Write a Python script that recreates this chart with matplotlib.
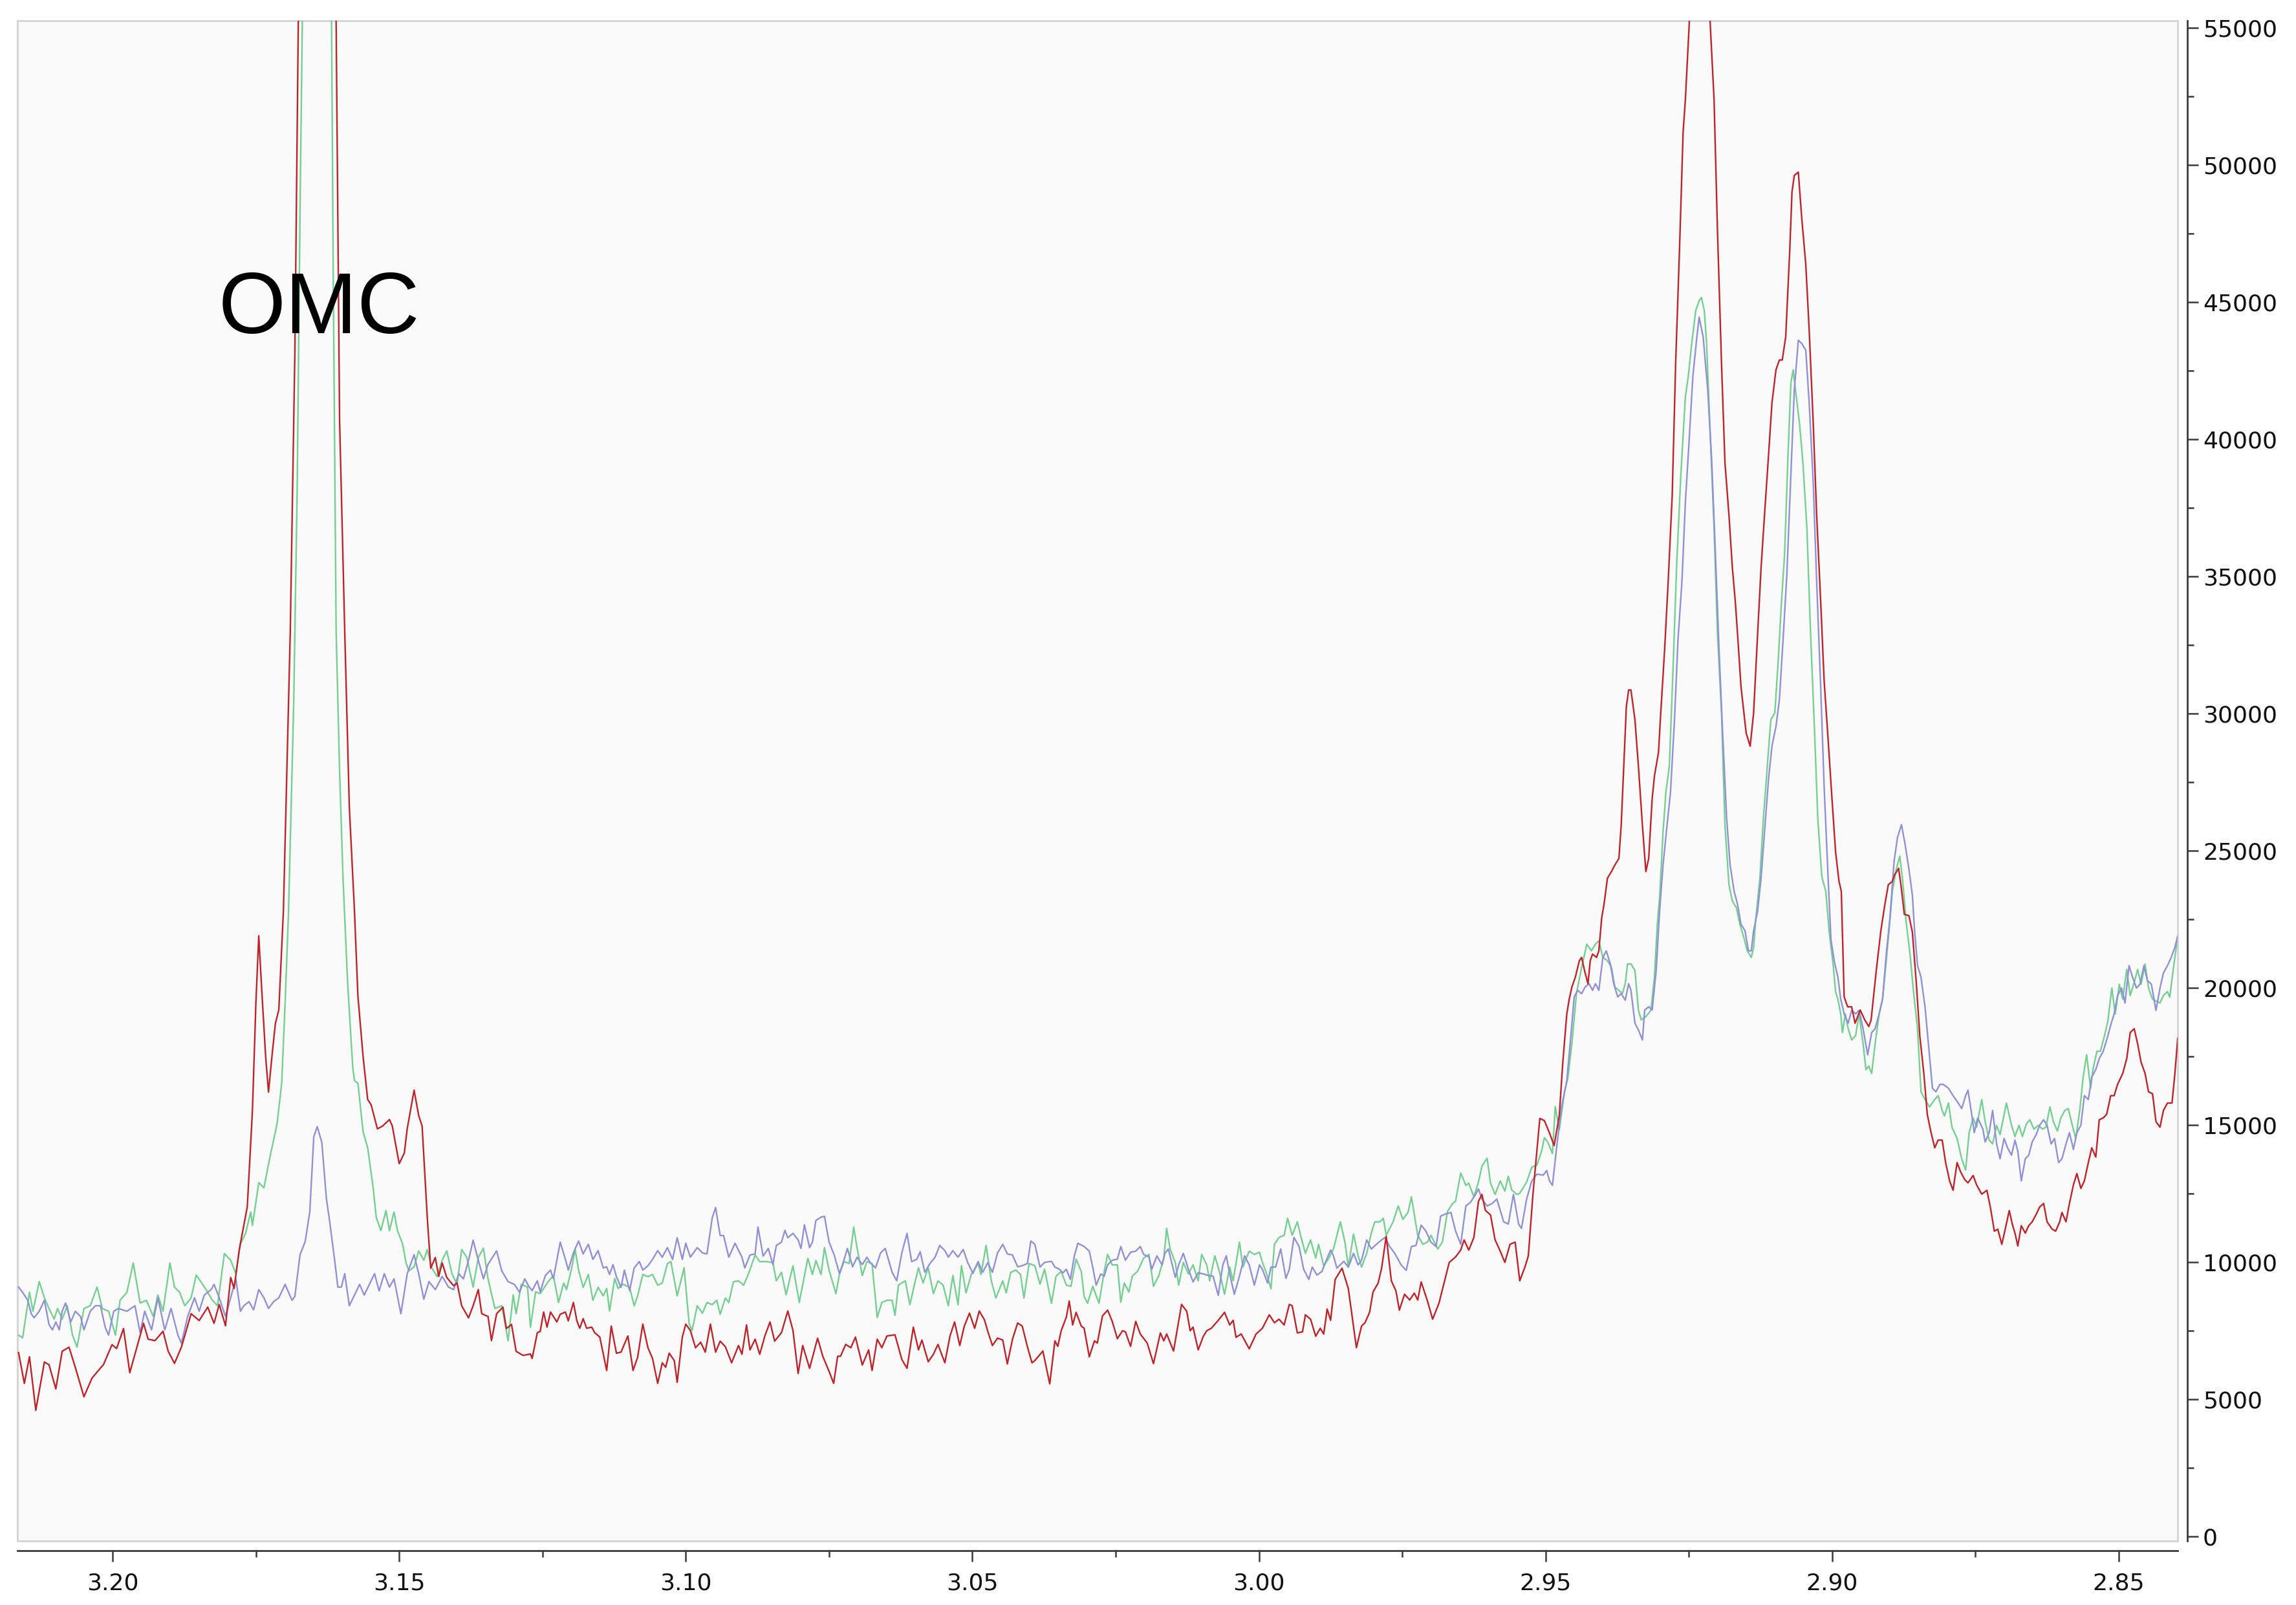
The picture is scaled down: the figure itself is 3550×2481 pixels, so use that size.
import numpy as np
import matplotlib
matplotlib.use("Agg")
import matplotlib.pyplot as plt
from matplotlib.patches import Rectangle
from matplotlib.ticker import MultipleLocator, FormatStrFormatter

# ---------------- data (chemical shift in ppm, intensity) ----------------
red_ppm = [3.2164,3.2154,3.2145,3.2134,3.2119,3.2111,3.2099,3.2088,3.2076,3.2065,3.2050,3.2036,3.2024,3.2016,3.2001,3.1993,3.1981,3.1970,3.1946,3.1938,3.1926,3.1912,3.1903,3.1892,3.1880,3.1863,3.1849,3.1834,3.1823,3.1814,3.1803,3.1794,3.1788,3.1779,3.1765,3.1756,3.1750,3.1745,3.1740,3.1733,3.1728,3.1722,3.1716,3.1710,3.1702,3.1690,3.1682,3.1676,3.1660,3.1643,3.1626,3.1610,3.1604,3.1595,3.1587,3.1578,3.1572,3.1563,3.1555,3.1549,3.1538,3.1529,3.1517,3.1512,3.1500,3.1491,3.1486,3.1474,3.1466,3.1460,3.1451,3.1445,3.1437,3.1431,3.1425,3.1417,3.1405,3.1399,3.1391,3.1379,3.1371,3.1362,3.1356,3.1345,3.1339,3.1330,3.1319,3.1313,3.1304,3.1296,3.1284,3.1271,
           3.1268,3.1259,3.1254,3.1248,3.1242,3.1236,3.1231,3.1225,3.1219,3.1210,3.1205,3.1196,3.1190,3.1185,3.1179,3.1173,3.1164,3.1159,3.1150,3.1138,3.1130,3.1121,3.1113,3.1101,3.1092,3.1084,3.1075,3.1066,3.1058,3.1049,3.1041,3.1035,3.1029,3.1020,3.1015,3.1006,3.1000,3.0992,3.0983,3.0974,3.0966,3.0957,3.0948,3.0940,3.0931,3.0920,3.0908,3.0902,3.0894,3.0888,3.0879,3.0871,3.0862,3.0853,3.0845,3.0833,3.0822,3.0813,3.0804,3.0796,3.0784,3.0770,3.0761,3.0750,3.0742,3.0735,3.0730,3.0721,3.0712,3.0704,3.0692,3.0681,3.0675,3.0666,3.0658,3.0649,3.0635,3.0623,3.0614,3.0603,3.0594,3.0588,3.0577,3.0568,3.0560,3.0548,3.0539,3.0531,3.0522,3.0514,3.0505,3.0496,3.0488,3.0479,3.0473,3.0465,3.0456,3.0447,3.0439,3.0430,3.0421,3.0413,3.0404,3.0396,3.0391,
           3.0377,3.0365,3.0356,3.0351,3.0345,3.0336,3.0331,3.0325,3.0319,3.0310,3.0305,3.0296,3.0287,3.0282,3.0273,3.0264,3.0256,3.0247,3.0238,3.0233,3.0224,3.0215,3.0207,3.0195,3.0184,3.0172,3.0166,3.0161,3.0149,3.0135,3.0126,3.0120,3.0115,3.0106,3.0097,3.0091,3.0083,3.0071,3.0060,3.0051,3.0045,3.0040,3.0031,3.0017,3.0005,2.9994,2.9982,2.9973,2.9965,2.9956,2.9947,2.9942,2.9933,2.9924,2.9919,2.9910,2.9901,2.9893,2.9887,2.9881,2.9875,2.9867,2.9855,2.9844,2.9830,2.9821,2.9815,2.9807,2.9801,2.9792,2.9786,2.9778,2.9769,2.9761,2.9755,2.9746,2.9737,2.9729,2.9723,2.9717,2.9706,2.9697,2.9686,2.9677,2.9668,2.9657,2.9648,2.9642,2.9634,2.9625,2.9617,2.9611,2.9605,2.9596,2.9588,2.9579,2.9571,2.9562,2.9553,2.9545,2.9536,2.9530,2.9522,2.9510,2.9502,2.9493,
           2.9485,2.9476,2.9470,2.9463,2.9459,2.9454,2.9448,2.9441,2.9437,2.9432,2.9426,2.9422,2.9418,2.9411,2.9407,2.9402,2.9398,2.9392,2.9385,2.9379,2.9372,2.9368,2.9364,2.9359,2.9355,2.9351,2.9344,2.9338,2.9331,2.9325,2.9320,2.9314,2.9310,2.9303,2.9299,2.9292,2.9286,2.9279,2.9273,2.9266,2.9260,2.9256,2.9249,2.9240,2.9231,2.9222,2.9213,2.9206,2.9200,2.9193,2.9187,2.9180,2.9174,2.9169,2.9165,2.9159,2.9150,2.9143,2.9137,2.9130,2.9124,2.9118,2.9111,2.9105,2.9098,2.9092,2.9087,2.9081,2.9074,2.9070,2.9066,2.9059,2.9053,2.9046,2.9040,2.9033,2.9027,2.9020,2.9014,2.9007,2.9001,2.8994,2.8988,2.8984,2.8979,2.8973,2.8966,2.8960,2.8951,2.8943,2.8936,2.8932,2.8923,2.8915,2.8908,2.8902,2.8895,2.8891,2.8884,2.8880,2.8874,
           2.8866,2.8860,2.8853,2.8847,2.8840,2.8834,2.8828,2.8821,2.8815,2.8808,2.8802,2.8795,2.8789,2.8782,2.8776,2.8769,2.8763,2.8754,2.8748,2.8739,2.8730,2.8724,2.8717,2.8711,2.8704,2.8698,2.8691,2.8685,2.8681,2.8676,2.8670,2.8663,2.8657,2.8651,2.8644,2.8638,2.8631,2.8625,2.8616,2.8610,2.8603,2.8599,2.8592,2.8586,2.8579,2.8573,2.8566,2.8560,2.8553,2.8547,2.8540,2.8534,2.8527,2.8521,2.8514,2.8508,2.8502,2.8493,2.8486,2.8480,2.8473,2.8467,2.8461,2.8454,2.8448,2.8441,2.8435,2.8428,2.8422,2.8415,2.8407,2.8402,2.8397]
red_int = [6700,5580,6550,4600,6360,6260,5380,6750,6900,6160,5090,5770,6070,6260,6990,6850,7580,5970,7770,7190,7140,7480,6750,6310,6900,8120,7870,8360,7770,8460,7680,9440,9040,10460,12020,15540,19450,21900,20000,17500,16200,17500,18700,19200,22800,33000,43200,55200,110000,160000,110000,55200,40700,33000,26600,22800,19700,17500,15930,15740,14860,14960,15200,14960,13590,13980,14860,16270,15350,14960,11630,9780,10170,9480,9970,9440,9140,9240,8410,7970,8410,9000,8120,8020,7140,8120,8360,7580,7730,6750,6600,6650,
           6490,7430,7470,8180,7630,8180,8020,7820,8100,8180,7860,8530,7860,7590,7940,7590,7630,7430,7270,6050,7670,6680,6720,7310,6050,6530,7740,6880,6490,5580,6330,6170,6680,6410,5620,7270,7740,7510,6880,7080,6720,7740,6720,7120,6920,6330,6960,6640,7710,6800,7190,6640,7310,7820,7120,7430,8220,7510,5940,6960,6130,7230,6570,6020,5580,6570,6570,7000,6880,7270,6250,6800,6050,7190,6880,7310,7350,6450,6130,7630,6800,7160,6370,6640,7000,6330,7310,7820,6960,7670,8140,7590,8220,7900,7470,6960,7230,7160,6290,7190,7780,7670,6920,6330,6410,
           6760,5560,7130,6930,7500,8000,8580,7710,8170,7670,7590,6550,7130,7050,8040,8250,7840,7210,7500,7460,6930,7840,7380,7050,6300,7420,7130,7380,6760,8460,8210,7500,7630,6800,7300,7500,7590,7880,8170,7710,7880,7260,7380,6840,7380,7590,8080,7790,7920,7710,8460,8410,7420,7460,8080,7920,7300,7590,7380,8290,7880,9370,9780,9030,6880,7670,7790,8170,8910,9240,9780,10940,9320,8950,8250,8830,8620,8870,8620,9280,8580,7920,8500,9240,9990,10190,10440,10810,10440,10900,12220,12470,11890,11720,10810,10400,9990,10650,10730,9320,9820,10230,12470,15240,15160,14700,
           14250,15350,17250,19030,19560,20030,20390,20990,21110,20630,20150,20990,21230,21110,21350,22560,23040,24000,24240,24480,24720,25930,27850,30260,30860,30860,29770,28090,25930,24240,24720,26890,27730,28570,30020,32420,34830,37960,42770,47100,51190,52390,55280,59500,61500,59500,55280,52390,47580,42770,39160,37230,35310,34100,32900,30980,29290,28810,30020,32900,35310,37230,39400,41320,42530,42890,42890,43730,46860,49020,49620,49740,48060,46380,43970,40600,37230,34100,31220,29050,27130,24960,23880,23520,19670,19310,19310,18710,19190,18830,18590,18830,20630,22080,23040,23760,23880,24120,24360,23760,22680,
           22630,22030,20130,18240,16880,15390,14780,14170,14450,14450,13630,12960,12620,13630,13300,13020,12890,13160,12820,12480,12620,12010,11130,11200,10650,11200,11880,11330,11060,10590,11330,11060,11330,11470,11740,12010,12140,11470,11200,11130,11470,11810,11470,12140,12820,13230,12690,12960,13630,14170,13830,15190,15260,15390,16070,16070,16480,16880,17420,18370,18510,17960,17290,16880,16210,16140,15120,14920,15530,15800,15800,16880,18170]

green_ppm = [3.2164,3.2157,3.2145,3.2139,3.2128,3.2119,3.2111,3.2102,3.2096,3.2088,3.2079,3.2070,3.2062,3.2050,3.2039,3.2027,3.2018,3.2007,3.1995,3.1987,3.1975,3.1964,3.1952,3.1941,3.1929,3.1921,3.1912,3.1900,3.1892,3.1883,3.1874,3.1863,3.1854,3.1846,3.1837,3.1826,3.1817,3.1805,3.1794,3.1785,3.1777,3.1768,3.1759,3.1756,3.1745,3.1736,3.1725,3.1713,3.1705,3.1699,3.1693,3.1684,3.1678,3.1673,3.1669,3.1655,3.1643,3.1631,3.1618,3.1615,3.1610,3.1604,3.1598,3.1590,3.1581,3.1578,3.1572,3.1563,3.1555,3.1546,3.1540,3.1532,3.1523,3.1517,3.1509,3.1503,3.1494,3.1488,3.1483,3.1474,3.1466,3.1457,3.1451,3.1443,3.1434,3.1425,3.1417,3.1408,3.1399,3.1391,3.1382,3.1371,3.1362,3.1353,3.1345,3.1333,3.1321,3.1310,3.1301,3.1296,3.1287,3.1276,
             3.1271,3.1262,3.1254,3.1239,3.1231,3.1222,3.1213,3.1208,3.1199,3.1193,3.1187,3.1179,3.1170,3.1162,3.1153,3.1144,3.1138,3.1133,3.1124,3.1118,3.1110,3.1098,3.1090,3.1084,3.1075,3.1066,3.1058,3.1049,3.1041,3.1032,3.1026,3.1015,3.1003,3.0994,3.0989,3.0980,3.0971,3.0963,3.0954,3.0946,3.0940,3.0931,3.0925,3.0917,3.0908,3.0899,3.0891,3.0879,3.0871,3.0859,3.0848,3.0842,3.0833,3.0825,3.0813,3.0802,3.0787,3.0779,3.0773,3.0764,3.0758,3.0750,3.0738,3.0732,3.0724,3.0715,3.0707,3.0701,3.0692,3.0684,3.0675,3.0666,3.0658,3.0649,3.0640,3.0635,3.0629,3.0617,3.0609,3.0600,3.0594,3.0586,3.0577,3.0568,3.0560,3.0551,3.0542,3.0534,3.0525,3.0519,3.0511,3.0502,3.0490,3.0485,3.0476,3.0467,3.0459,3.0447,3.0441,3.0433,3.0424,3.0416,3.0410,3.0401,3.0391,
             3.0382,3.0374,3.0362,3.0354,3.0345,3.0336,3.0328,3.0319,3.0310,3.0305,3.0299,3.0290,3.0279,3.0270,3.0264,3.0256,3.0247,3.0241,3.0235,3.0227,3.0221,3.0212,3.0201,3.0192,3.0184,3.0175,3.0166,3.0161,3.0155,3.0146,3.0140,3.0132,3.0123,3.0115,3.0106,3.0100,3.0091,3.0086,3.0077,3.0069,3.0060,3.0051,3.0045,3.0034,3.0028,3.0022,3.0017,3.0008,2.9999,2.9994,2.9988,2.9979,2.9973,2.9965,2.9956,2.9950,2.9942,2.9933,2.9927,2.9919,2.9910,2.9901,2.9896,2.9887,2.9878,2.9870,2.9858,2.9850,2.9844,2.9835,2.9827,2.9821,2.9812,2.9804,2.9798,2.9789,2.9783,2.9778,2.9766,2.9757,2.9749,2.9740,2.9734,2.9723,2.9714,2.9706,2.9700,2.9688,2.9680,2.9671,2.9662,2.9657,2.9648,2.9639,2.9634,2.9625,2.9617,2.9611,2.9602,2.9596,2.9588,2.9579,2.9571,2.9565,2.9559,2.9550,2.9545,2.9533,2.9524,2.9515,2.9507,2.9502,2.9496,2.9488,
             2.9483,2.9476,2.9467,2.9461,2.9454,2.9446,2.9437,2.9428,2.9420,2.9413,2.9407,2.9400,2.9392,2.9385,2.9379,2.9372,2.9366,2.9361,2.9357,2.9351,2.9344,2.9338,2.9333,2.9325,2.9316,2.9310,2.9305,2.9301,2.9295,2.9290,2.9284,2.9277,2.9271,2.9264,2.9256,2.9251,2.9245,2.9238,2.9232,2.9228,2.9223,2.9219,2.9213,2.9206,2.9200,2.9193,2.9187,2.9180,2.9174,2.9167,2.9161,2.9154,2.9148,2.9141,2.9137,2.9133,2.9126,2.9120,2.9113,2.9107,2.9100,2.9094,2.9089,2.9083,2.9077,2.9072,2.9068,2.9064,2.9057,2.9051,2.9044,2.9038,2.9031,2.9025,
             2.9018,2.9011,2.9005,2.8998,2.8994,2.8990,2.8985,2.8982,2.8977,2.8972,2.8966,2.8959,2.8953,2.8946,2.8941,2.8936,2.8931,2.8925,2.8918,2.8912,2.8907,2.8901,2.8895,2.8888,2.8882,2.8877,2.8871,2.8864,2.8858,2.8851,2.8845,2.8838,2.8830,2.8821,2.8815,2.8808,2.8804,2.8797,2.8791,2.8782,2.8774,2.8767,2.8761,2.8754,2.8748,2.8739,2.8733,2.8726,2.8720,2.8713,2.8707,2.8696,2.8687,2.8681,2.8674,2.8668,2.8661,2.8655,2.8648,2.8640,2.8633,2.8627,2.8620,2.8614,2.8607,2.8601,2.8594,2.8588,2.8581,2.8575,2.8568,2.8562,2.8556,2.8549,2.8545,2.8538,2.8532,2.8525,2.8519,2.8512,2.8506,2.8499,2.8493,2.8486,2.8480,2.8473,2.8467,2.8461,2.8454,2.8448,2.8441,2.8435,2.8428,2.8422,2.8415,2.8411,2.8404,2.8397]
green_int = [7340,7240,8900,8210,9290,8700,8310,7920,8310,7920,8410,7340,6900,8310,8410,9090,8310,8210,7340,8610,8900,9970,8510,8610,8020,8800,8210,9970,9090,8900,8410,8700,9530,9290,9000,8610,8410,10310,10070,9580,10660,11050,11830,11340,12900,12710,13880,15050,16520,19450,22800,30400,38100,48300,55200,100000,130000,100000,55200,45800,33000,27900,24000,20200,17100,16620,16520,14760,14170,12810,11630,11150,11880,11150,11830,11150,10660,9970,9680,9830,10410,10070,10460,9780,9480,10070,10410,9580,9190,10460,10170,9090,10170,10510,9390,8310,8410,7140,8800,8120,9190,9090,
             7630,8920,8850,9320,9510,8530,9240,9000,9790,10460,9710,9080,9550,8610,9080,8770,9040,8220,9400,9040,9200,9080,8410,8770,9550,9470,9550,9160,9240,9950,10020,8770,9790,7740,7510,8410,8140,8530,8450,8610,8100,8690,8530,9280,9320,9160,9550,10260,10020,10020,9980,9320,9630,8810,9870,8530,10140,9550,10060,9550,10530,9710,8850,9550,10020,9950,11280,10500,9510,10020,9950,7980,8530,8610,8610,8060,9160,9320,8450,9280,9790,9240,9790,8850,9320,9160,8410,9510,8450,9870,8880,9550,9950,9550,10610,9320,8690,9320,8880,9630,9710,9550,8690,9950,9870,
             9200,9740,8500,9490,9660,9160,9120,10110,9660,8750,8500,9120,8500,9660,10280,9900,9900,8540,9240,8910,9490,9660,10150,10280,9120,9490,10150,11230,10480,9990,9160,9990,9570,9900,9320,10280,9900,9320,10230,9660,8830,9820,9320,10730,9820,10150,10400,10280,10360,9990,9660,9030,10650,10900,10980,11600,10980,11470,10940,10320,10810,10150,10650,9860,10150,10480,11470,10730,9820,11020,10230,9820,10320,11060,11470,11470,11600,10980,11470,12050,11560,11810,12380,10980,10650,10730,10980,10480,10730,11850,12140,12220,13250,12800,12880,12380,12920,13500,13790,12880,12470,12960,12590,13130,12630,12470,12510,12920,13460,13540,14040,14540,14370,13960,
             15670,14830,16190,16720,17980,19800,20750,21590,21350,21590,21710,21110,20990,20750,20030,19910,19790,20150,20870,20870,20630,19190,18830,18950,19190,20390,22320,23280,25680,27130,28090,31940,35550,38680,41560,42290,43490,44690,45050,45170,44690,43490,40360,36750,32900,30020,25930,23760,23160,22920,22320,21830,21350,21110,21470,22560,24000,26170,28090,29770,30020,31940,33860,35790,39400,42050,42530,41800,40600,39160,36750,33140,29530,26170,
             24060,23510,22030,20810,19860,19590,19050,18370,19050,18510,18100,18260,19050,17960,17020,17150,16880,17960,19050,19590,20670,22030,23510,24330,24800,23920,22430,21210,19860,18510,16210,15930,15660,15930,16070,15530,15330,15800,14920,14510,13770,13360,14720,15260,14920,15930,15120,14450,14310,14990,14650,15800,14990,14580,14990,14580,15050,15190,14850,14990,14850,14920,15660,15120,14780,15260,15530,15600,14990,14510,15530,16750,17560,16340,17020,17690,17690,18240,18780,19990,19050,20130,19590,20670,19720,20200,20670,20130,20870,19990,19590,19520,19450,19720,19860,19660,20810,21890]

blue_ppm = [3.2164,3.2157,3.2148,3.2142,3.2137,3.2128,3.2119,3.2111,3.2105,3.2099,3.2093,3.2088,3.2082,3.2073,3.2065,3.2056,3.2050,3.2039,3.2030,3.2021,3.2013,3.2007,3.1998,3.1990,3.1975,3.1961,3.1952,3.1944,3.1932,3.1921,3.1909,3.1898,3.1886,3.1880,3.1869,3.1857,3.1849,3.1840,3.1828,3.1823,3.1814,3.1803,3.1794,3.1785,3.1777,3.1771,3.1762,3.1754,3.1745,3.1736,3.1728,3.1719,3.1710,3.1699,3.1687,3.1682,3.1673,3.1664,3.1656,3.1649,3.1643,3.1635,3.1627,3.1621,3.1612,3.1607,3.1601,3.1595,3.1587,3.1578,3.1569,3.1561,3.1552,3.1543,3.1535,3.1526,3.1517,3.1509,3.1497,3.1486,3.1474,3.1466,3.1457,3.1448,3.1437,3.1425,3.1414,3.1405,3.1396,3.1388,3.1379,3.1371,3.1362,3.1353,3.1345,3.1330,3.1321,3.1310,3.1299,3.1290,3.1281,
            3.1274,3.1268,3.1259,3.1254,3.1245,3.1236,3.1231,3.1219,3.1210,3.1205,3.1196,3.1187,3.1179,3.1170,3.1162,3.1153,3.1144,3.1138,3.1133,3.1127,3.1121,3.1113,3.1107,3.1098,3.1090,3.1081,3.1075,3.1066,3.1058,3.1049,3.1041,3.1032,3.1023,3.1015,3.1006,3.1000,3.0992,3.0980,3.0971,3.0963,3.0954,3.0948,3.0940,3.0934,3.0925,3.0914,3.0902,3.0897,3.0888,3.0879,3.0874,3.0865,3.0856,3.0848,3.0842,3.0833,3.0827,3.0822,3.0813,3.0804,3.0799,3.0793,3.0784,3.0779,3.0773,3.0764,3.0758,3.0750,3.0741,3.0732,3.0727,3.0718,3.0709,3.0701,3.0692,3.0684,3.0678,3.0669,3.0660,3.0652,3.0640,3.0632,3.0623,3.0614,3.0606,3.0597,3.0591,3.0583,3.0574,3.0565,3.0557,3.0548,3.0542,3.0534,3.0525,3.0516,3.0508,3.0499,3.0490,3.0482,3.0473,3.0465,3.0456,3.0447,3.0439,3.0430,3.0421,3.0413,3.0404,3.0398,3.0391,
            3.0382,3.0374,3.0362,3.0356,3.0348,3.0342,3.0336,3.0329,3.0322,3.0316,3.0305,3.0296,3.0290,3.0284,3.0276,3.0270,3.0264,3.0256,3.0247,3.0241,3.0233,3.0224,3.0215,3.0207,3.0201,3.0192,3.0187,3.0178,3.0169,3.0164,3.0158,3.0146,3.0140,3.0132,3.0123,3.0115,3.0106,3.0097,3.0091,3.0080,3.0071,3.0063,3.0057,3.0051,3.0043,3.0034,3.0025,3.0017,3.0008,2.9999,2.9994,2.9985,2.9979,2.9971,2.9962,2.9953,2.9947,2.9939,2.9930,2.9922,2.9913,2.9907,2.9899,2.9890,2.9884,2.9875,2.9870,2.9864,2.9852,2.9844,2.9835,2.9827,2.9821,2.9812,2.9804,2.9795,2.9786,2.9780,2.9772,2.9763,2.9752,2.9743,2.9734,2.9726,2.9717,2.9709,2.9700,2.9691,2.9683,2.9674,2.9665,2.9657,2.9648,2.9639,2.9631,2.9622,2.9617,2.9611,2.9602,2.9593,2.9585,2.9573,2.9565,2.9556,2.9547,2.9542,2.9533,2.9524,2.9515,2.9504,2.9498,2.9493,2.9488,
            2.9480,2.9472,2.9463,2.9457,2.9450,2.9444,2.9437,2.9431,2.9424,2.9418,2.9413,2.9407,2.9400,2.9394,2.9387,2.9381,2.9374,2.9368,2.9361,2.9355,2.9351,2.9344,2.9338,2.9331,2.9327,2.9320,2.9314,2.9307,2.9301,2.9295,2.9288,2.9282,2.9275,2.9269,2.9262,2.9256,2.9249,2.9243,2.9236,2.9232,2.9225,2.9217,2.9210,2.9204,2.9197,2.9191,2.9184,2.9178,2.9171,2.9165,2.9159,2.9152,2.9146,2.9141,2.9137,2.9130,2.9124,2.9118,2.9111,2.9105,2.9098,2.9092,2.9085,2.9079,2.9072,2.9066,2.9059,2.9053,2.9046,2.9040,2.9033,2.9027,2.9020,2.9014,2.9007,
            2.9002,2.8996,2.8990,2.8985,2.8979,2.8972,2.8966,2.8959,2.8953,2.8946,2.8938,2.8931,2.8925,2.8918,2.8912,2.8905,2.8899,2.8892,2.8886,2.8879,2.8873,2.8866,2.8860,2.8856,2.8851,2.8845,2.8838,2.8832,2.8825,2.8819,2.8812,2.8806,2.8797,2.8789,2.8780,2.8774,2.8767,2.8763,2.8757,2.8752,2.8746,2.8737,2.8733,2.8726,2.8720,2.8713,2.8707,2.8700,2.8694,2.8687,2.8681,2.8676,2.8670,2.8663,2.8657,2.8651,2.8644,2.8638,2.8631,2.8625,2.8618,2.8612,2.8605,2.8599,2.8592,2.8586,2.8579,2.8573,2.8566,2.8560,2.8553,2.8547,2.8540,2.8534,2.8527,2.8521,2.8514,2.8508,2.8502,2.8495,2.8489,2.8482,2.8476,2.8469,2.8463,2.8456,2.8450,2.8443,2.8435,2.8428,2.8422,2.8415,2.8409,2.8402,2.8397]
blue_int = [9090,8900,8610,8120,7970,8210,8610,7730,7530,7820,7530,8210,8510,7820,8210,8020,7530,8210,8410,8410,7630,7340,8210,8310,8210,8410,7430,8210,7530,8700,7530,8310,7340,7040,8020,8700,8210,8800,9000,9190,8700,8020,8700,9390,8210,8410,8560,8260,9000,8700,8310,8560,8700,9190,8610,8750,10270,10750,11830,14570,14940,14370,12320,11440,9970,9090,9090,9580,8410,8800,9190,8800,9190,9580,8950,9580,9090,9390,8120,9580,10270,9580,8650,9290,9000,9480,9090,9000,9580,9390,10070,10800,10070,9390,9920,10410,9680,9290,9190,8900,9390,
            9120,8960,9320,8920,9510,9710,9400,10730,10100,9710,10340,10770,10300,10650,10100,10420,9790,9830,9550,9910,9470,9080,9710,8960,9790,10020,9710,9870,10100,10420,10180,10530,10100,10890,10100,10690,10180,10530,10340,10300,11600,11990,10970,10970,10180,10690,10180,9790,10260,10300,11280,10220,10500,9910,10610,10730,11160,10890,11050,10810,10500,11360,10530,10730,11520,11640,11670,10730,10260,9590,9870,10500,9830,10180,9910,10180,9980,9790,10340,10500,9630,9320,10340,11050,10020,10100,10380,9630,9950,10180,10610,10420,10180,10420,10180,10460,9980,9590,10020,9630,9980,9630,10340,10650,10300,10260,9830,9870,9950,10770,10650,
            9820,9990,10030,9820,9740,9610,9740,9370,10230,10690,10570,10400,9820,9160,9570,9490,9900,10070,10110,10570,10070,10360,10400,10570,10280,10190,9740,10230,9900,10320,10480,9450,9900,10320,9740,9280,9610,9570,9530,9490,8790,9900,10230,9570,8830,9490,10230,9900,9160,9900,9740,9240,9820,9820,10480,9410,9740,10900,10570,9740,9370,9820,9530,9660,9990,10440,10230,9780,10030,9820,10320,9900,10070,10810,10480,10650,10810,10900,10570,10320,9900,9700,10570,10610,11350,11140,10730,10570,11680,11760,11810,11140,10650,12050,12180,12470,12670,12300,12050,12140,12300,11470,11390,12470,11390,11230,12300,12960,13210,13170,13340,12960,12800,
            14300,15670,16610,17980,19670,19910,19790,20030,20150,19910,20150,19910,21110,21350,20870,20150,19670,19790,19550,20150,19910,18710,18470,18100,19190,19310,19190,20630,22800,24480,25930,27130,29770,32660,34830,37710,40120,42290,43730,44450,43730,41800,39160,36030,32180,29290,26170,24480,23520,23040,22320,22080,21350,21350,22080,22800,24000,25680,27610,28810,29530,30500,32900,35070,38680,41800,43610,43490,43250,41320,38440,34830,30980,27370,24000,
            21750,20940,20400,19590,19050,18710,19180,19050,19180,18510,17560,18370,18510,19050,19590,21350,22570,24600,25480,25950,25270,24330,23380,22030,20810,20400,19320,17960,16340,16210,16480,16480,16340,16070,15800,15600,16070,16270,15460,14720,15260,14850,14380,14720,15530,14310,13770,14510,14170,13900,14450,14040,12960,13770,13900,14380,14650,14990,15190,14990,14310,14510,13630,13770,14310,14720,14110,14720,14990,16070,15930,16750,17020,17420,17690,18100,18640,19050,19720,19990,19450,20810,20400,19990,20130,20810,20270,20130,19180,19990,20540,20810,21080,21480,21890]

x_limits = (3.2166, 2.8397)
y_limits = (-165, 55260)
x_major, x_minor = 0.05, 0.025
y_major, y_minor = 5000, 2500
label_text = "OMC"
label_pos = (3.1816, 43860)

series = [
    (green_ppm, green_int, "#74cf90"),
    (blue_ppm, blue_int, "#9090d6"),
    (red_ppm, red_int, "#bf2328"),
]

# ---------------- figure ----------------
fig = plt.figure(figsize=(35.5, 24.81), dpi=100)
ax = fig.add_axes([0.0076, 0.0399, 0.9409, 0.9472])
ax.set_facecolor("#fafafa")

for xs, ys, col in series:
    ax.plot(xs, ys, color=col, lw=1.7, solid_joinstyle="round")

ax.set_xlim(*x_limits)
ax.set_ylim(*y_limits)

# light frame around plot area
ax.add_patch(Rectangle((0, 0), 1, 1, transform=ax.transAxes, fill=False,
                       edgecolor="#d6d6d6", lw=2.2, clip_on=False, zorder=0.5))

for s in ("left", "top"):
    ax.spines[s].set_visible(False)
for s in ("right", "bottom"):
    ax.spines[s].set_position(("outward", 11))
    ax.spines[s].set_color("#3a3a3a")
    ax.spines[s].set_linewidth(2.0)

ax.yaxis.tick_right()
ax.xaxis.set_major_locator(MultipleLocator(x_major))
ax.xaxis.set_minor_locator(MultipleLocator(x_minor))
ax.xaxis.set_major_formatter(FormatStrFormatter("%.2f"))
ax.yaxis.set_major_locator(MultipleLocator(y_major))
ax.yaxis.set_minor_locator(MultipleLocator(y_minor))
ax.yaxis.set_major_formatter(FormatStrFormatter("%d"))

ax.tick_params(axis="both", which="major", length=12, width=1.8, color="#3a3a3a",
               labelsize=26, labelcolor="#111111")
ax.tick_params(axis="both", which="minor", length=7, width=1.8, color="#3a3a3a")
ax.tick_params(axis="x", which="major", pad=12)
ax.tick_params(axis="y", which="major", pad=5)

ax.text(label_pos[0], label_pos[1], label_text, fontsize=96,
        family=["Liberation Sans", "DejaVu Sans"], ha="left", va="baseline",
        color="black", zorder=5)

fig.savefig("out.png", dpi=100, facecolor="white")
